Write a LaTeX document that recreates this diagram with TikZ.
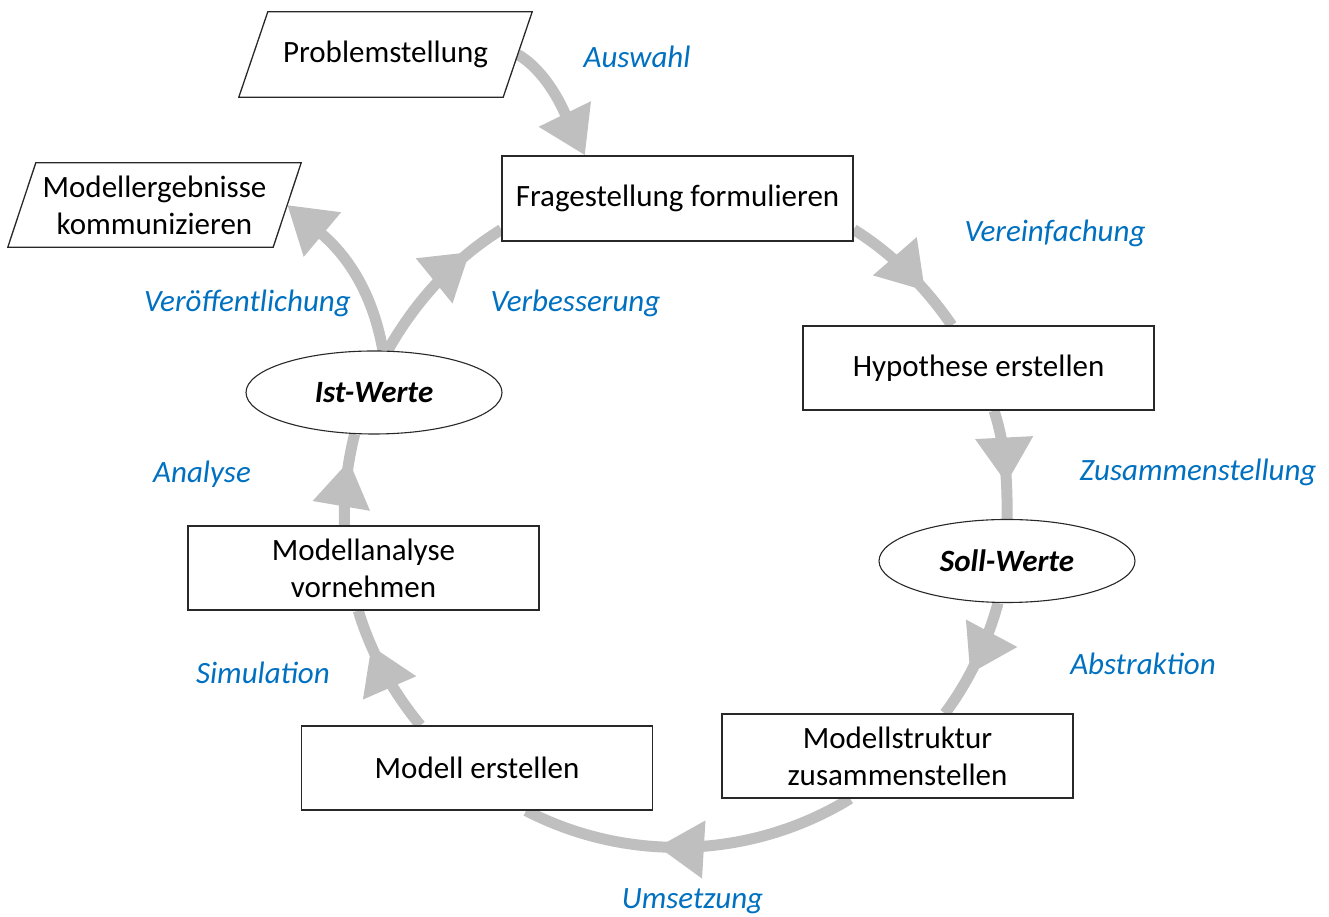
\documentclass[tikz,border=0pt]{standalone}
\usepackage{fontspec}
\setmainfont{Carlito}
\usetikzlibrary{arrows.meta,decorations.markings,shapes.geometric,backgrounds}
\definecolor{ringgray}{RGB}{191,191,191}
\definecolor{labelblue}{RGB}{0,112,192}
\definecolor{edgegray}{RGB}{40,40,40}

% parallelogram outlines sit above the flow ring, below the texts
\pgfdeclarelayer{framelayer}
\pgfsetlayers{background,framelayer,main}

\tikzset{
  boxtext/.style={font=\fontsize{31}{37}\selectfont, align=center},
  stepbox/.style={boxtext, draw=edgegray, line width=1.3pt, fill=white,
    minimum width=351pt, minimum height=84pt, inner sep=0pt},
  valnode/.style={ellipse, draw=edgegray, line width=1.1pt, fill=white,
    minimum width=256pt, minimum height=83pt, inner sep=0pt,
    font=\fontsize{31}{37}\selectfont\bfseries\itshape},
  iobox/.style={boxtext, minimum width=293pt, minimum height=85pt, inner sep=0pt},
  ioframe/.style={draw=edgegray, fill=white, line width=1.3pt, line join=miter},
  flowlabel/.style={font=\fontsize{31}{37}\selectfont\itshape,
    text=labelblue, inner sep=0pt},
  ring/.style={color=ringgray, line width=11pt},
  headtip/.style={-{Triangle[length=46pt,width=55pt]}},
  midhead/.style={postaction={decorate, decoration={markings,
    mark=at position #1 with {\arrow{Triangle[length=46pt,width=55pt]}}}}},
}

\begin{document}
\begin{tikzpicture}[x=1pt,y=1pt]
\useasboundingbox (0,0) rectangle (1329,917);

% process steps
\node[iobox]   (P)  at (385.5,862.5) {Problemstellung};
\node[iobox, minimum height=84pt] (MK) at (154.5,712) {Modellergebnisse\\kommunizieren};
\node[stepbox, minimum height=85pt] (F) at (677.5,718.5) {Fragestellung formulieren};
\node[stepbox] (H)  at (978.5,549)   {Hypothese erstellen};
\node[valnode] (IW) at (374,524.5)   {Ist-Werte};
\node[valnode] (S)  at (1007,356)    {Soll-Werte};
\node[stepbox] (MA) at (363.5,349)   {Modellanalyse\\vornehmen};
\node[stepbox] (ME) at (477,149)     {Modell erstellen};
\node[stepbox] (MS) at (897.5,161)   {Modellstruktur\\zusammenstellen};

% slanted input/output frames
\begin{pgfonlayer}{framelayer}
\filldraw[ioframe] (P.south west) -- ([xshift=29pt]P.north west)
  -- (P.north east) -- ([xshift=-29pt]P.south east) -- cycle;
\filldraw[ioframe] (MK.south west) -- ([xshift=28pt]MK.north west)
  -- (MK.north east) -- ([xshift=-28pt]MK.south east) -- cycle;
\end{pgfonlayer}

% transition labels
\node[flowlabel] (lAus) at (637,860.5)  {Auswahl};
\node[flowlabel] (lVer) at (1055,684)   {Vereinfachung};
\node[flowlabel] (lPub) at (247.5,614)  {Veröffentlichung};
\node[flowlabel] (lImp) at (575.5,614)  {Verbesserung};
\node[flowlabel] (lZus) at (1198,445)   {Zusammenstellung};
\node[flowlabel] (lAna) at (202,443)    {Analyse};
\node[flowlabel] (lAbs) at (1143,253.5) {Abstraktion};
\node[flowlabel] (lSim) at (263,244)    {Simulation};
\node[flowlabel, anchor=base] (lUms) at (692.5,8) {Umsetzung};

% circular flow behind the boxes
\begin{scope}[on background layer]
\draw[ring, headtip] ([xshift=-14.5pt]P.east) to[out=-30, in=116, looseness=0.8] (F.155.3);
\draw[ring, midhead=0.684] (F.-10.5) to[out=-31.9, in=124.4, looseness=0.86] (H.122.2);
\draw[ring, midhead=0.677] (H.-70.95) to[out=-71.8, in=89.1, looseness=0.857] (S.north);
\draw[ring, midhead=0.62] (S.-102) to[out=-105.5, in=53.1, looseness=0.858] (MS.42.7);
\draw[ring, midhead=0.594] (MS.222.1) to[out=-148.5, in=-27.3, looseness=0.91] (ME.-41.8);
\draw[ring, midhead=0.715] (ME.143.6) to[out=129.5, in=-73.25, looseness=0.86] (MA.-97.5);
\draw[ring, midhead=0.706] (MA.114.9) to[out=92.1, in=256.1, looseness=0.855] (IW.-115.7);
\draw[ring, midhead=0.77] (IW.72.6) to[out=60.6, in=211.7, looseness=0.865] (F.190.5);
\draw[ring, headtip] (IW.78) to[out=100, in=-40] ([xshift=-14pt]MK.east);
\end{scope}
\end{tikzpicture}
\end{document}
